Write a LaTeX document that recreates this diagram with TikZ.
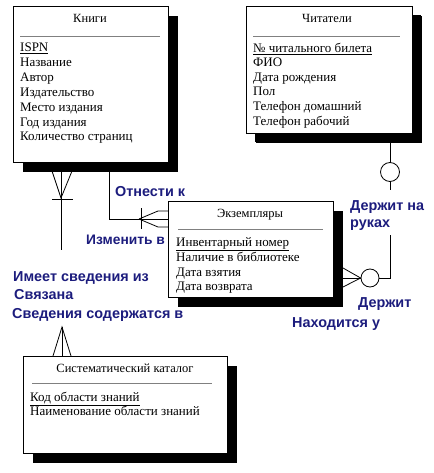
\documentclass[tikz,border=0pt]{standalone}
\usepackage{fontspec}
\setmainfont{Liberation Serif}
\newfontfamily\lblfont{Liberation Sans}
\usetikzlibrary{shadows,backgrounds}
\definecolor{lblblue}{RGB}{28,28,125}
\begin{document}
\begin{tikzpicture}[x=1pt,y=-1pt,
 entity/.style={draw=black, line width=0.9pt, fill=white, rectangle, inner sep=0pt,
   general shadow={fill=black, shadow xshift=10pt, shadow yshift=-10pt}},
 attr/.style={anchor=base west, inner sep=0pt, font=\fontsize{13}{14}\selectfont},
 ttl/.style={anchor=base, inner sep=0pt, font=\fontsize{12.5}{14}\selectfont},
 rel/.style={anchor=base west, inner sep=0pt, text=lblblue, font=\lblfont\bfseries\fontsize{14.4}{16}\selectfont},
 sepline/.style={draw=gray, line width=0.8pt},
 conn/.style={line width=0.8pt},
 ring/.style={circle, draw=black, line width=0.8pt, fill=white, minimum size=19pt, inner sep=0pt}]
\useasboundingbox (0,0) rectangle (433,473);

% entities
\node[entity, minimum width=155pt, minimum height=156pt] (books) at (90.5,84) {};
\node[entity, minimum width=166pt, minimum height=127pt, general shadow={fill=black, shadow xshift=9pt, shadow yshift=-9pt}] (readers) at (329,69.5) {};
\node[entity, minimum width=165pt, minimum height=96pt] (copies) at (250.5,249) {};
\node[entity, minimum width=204pt, minimum height=97pt] (cat) at (125,404.5) {};

% Books
\node[ttl] (bt) at (90,22.5) {Книги};
\draw[sepline] (20,36) -- (160,36);
\node[attr] (b1) at (20,51.5) {\underline{ISPN}};
\node[attr] (b2) at (20,66.5) {Название};
\node[attr] (b3) at (20,81.5) {Автор};
\node[attr] (b4) at (20,96.5) {Издательство};
\node[attr] (b5) at (20,111.5) {Место издания};
\node[attr] (b6) at (20,126.5) {Год издания};
\node[attr] (b7) at (20,140.5) {Количество страниц};

% Readers
\node[ttl] (rt) at (327,22.5) {Читатели};
\draw[sepline] (253,36) -- (400,36);
\node[attr] (r1) at (253,52.5) {\underline{№ читального билета}};
\node[attr] (r2) at (253,66.5) {ФИО};
\node[attr] (r3) at (253,81.5) {Дата рождения};
\node[attr] (r4) at (253,96) {Пол};
\node[attr] (r5) at (253,111) {Телефон домашний};
\node[attr] (r6) at (253,126) {Телефон рабочий};

% Copies
\node[ttl] (ct) at (250,217.5) {Экземпляры};
\draw[sepline] (178,229) -- (323,229);
\node[attr] (c1) at (176,246.5) {\underline{Инвентарный номер}};
\node[attr] (c2) at (176,261.5) {Наличие в библиотеке};
\node[attr] (c3) at (176,276.5) {Дата взятия};
\node[attr] (c4) at (176,290.5) {Дата возврата};

% Catalog
\node[ttl] (kt) at (125,372.5) {Систематический каталог};
\draw[sepline] (32,383) -- (212,383);
\node[attr] (k1) at (30,401.5) {\underline{Код области знаний}};
\node[attr] (k2) at (30,415.5) {Наименование области знаний};

% rings
\node[ring] (o1) at (390,172) {};
\node[ring, minimum size=18pt] (o2) at (370,278) {};

% named coordinates
\coordinate (bcA) at (61,198);
\coordinate (bcE) at (61,250);
\coordinate (bcB) at (62,327);
\coordinate (bk) at (109,219);
\coordinate (bkA) at (139,219);
\coordinate (rA) at (390,190);
\coordinate (rB) at (390,235);
\coordinate (rC) at (390,278);

\begin{pgfonlayer}{background}
% Books -- Catalog
\draw[conn] (books.south -| bcA) -- (bcE);
\draw[conn] (52,171) -- (bcA) -- (72,171);
\draw[conn] (52,199) -- (73,199);
\draw[conn] (bcB) -- (cat.north -| bcB);
\draw[conn] (53,356) -- (bcB) -- (71,356);
% Books -- Copies
\draw[conn] (books.south -| bk) -- (bk) -- (bk -| copies.west);
\draw[conn] (141,208) -- (141,229);
\draw[conn] (bkA) -- (158,211) -- (168,211);
\draw[conn] (bkA) -- (158,227) -- (168,227);
% Readers -- Copies
\draw[conn] (readers.south -| o1) -- (o1.north);
\draw[conn] (o1.south) -- (rA);
\draw[conn] (rB) -- (rC) -- (o2.east);
\draw[conn] (o2.west) -- (343,268);
\draw[conn] (o2.west) -- (343,278);
\draw[conn] (o2.west) -- (343,287);
\end{pgfonlayer}

% relationship labels
\node[rel] (l1) at (115,196) {Отнести к};
\node[rel, font=\lblfont\bfseries\fontsize{13.8}{16}\selectfont] (l2) at (86,244) {Изменить в};
\node[rel] (l3) at (13,281) {Имеет сведения из};
\node[rel] (l4) at (14,299) {Связана};
\node[rel] (l5) at (12,318) {Сведения содержатся в};
\node[rel] (l6) at (350,210) {Держит на};
\node[rel] (l7) at (350,227) {руках};
\node[rel] (l8) at (358,307) {Держит};
\node[rel] (l9) at (292,327) {Находится у};
\end{tikzpicture}
\end{document}
